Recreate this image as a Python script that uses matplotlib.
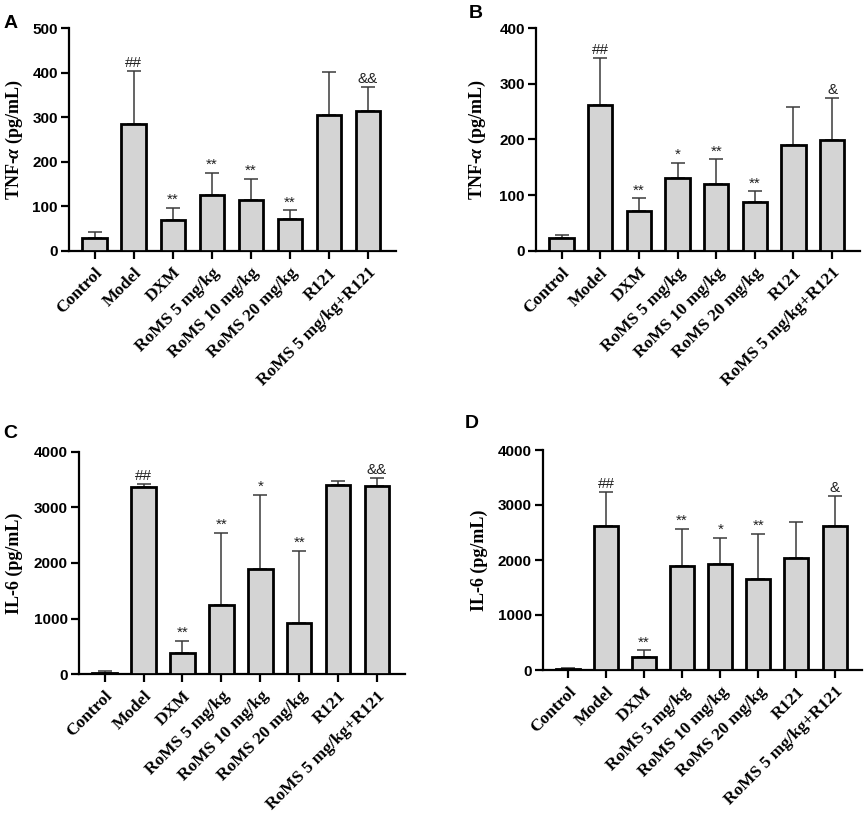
import matplotlib
matplotlib.use("Agg")
import matplotlib.pyplot as plt
import numpy as np

plt.rcParams['mathtext.fontset'] = 'custom'
plt.rcParams['mathtext.rm'] = 'Liberation Serif:bold'
plt.rcParams['mathtext.it'] = 'Liberation Serif:italic:bold'
plt.rcParams['mathtext.bf'] = 'Liberation Serif:bold'

categories = ["Control", "Model", "DXM", "RoMS 5 mg/kg", "RoMS 10 mg/kg",
              "RoMS 20 mg/kg", "R121", "RoMS 5 mg/kg+R121"]

tnf_a_mean = [28, 284, 69, 124, 113, 72, 304, 313]
tnf_a_err = [14, 120, 27, 51, 49, 19, 97, 55]
tnf_b_mean = [23, 262, 72, 130, 119, 87, 189, 198]
tnf_b_err = [5, 84, 22, 28, 45, 20, 69, 77]
il6_c_mean = [25, 3359, 386, 1251, 1886, 922, 3407, 3377]
il6_c_err = [30, 60, 216, 1294, 1342, 1300, 72, 156]
il6_d_mean = [20, 2626, 242, 1897, 1933, 1647, 2030, 2614]
il6_d_err = [15, 614, 116, 674, 474, 833, 663, 547]

marks_a = ["", "##", "**", "**", "**", "**", "", "&&"]
marks_b = ["", "##", "**", "*", "**", "**", "", "&"]
marks_c = ["", "##", "**", "**", "*", "**", "", "&&"]
marks_d = ["", "##", "**", "**", "*", "**", "", "&"]

yticks_tnf_a = [0, 100, 200, 300, 400, 500]
yticks_tnf_b = [0, 100, 200, 300, 400]
yticks_il6 = [0, 1000, 2000, 3000, 4000]

W, H = 865, 819
fig = plt.figure(figsize=(W / 100, H / 100), dpi=100)

def frac(l, r, t, b):
    return [l / W, 1 - b / H, (r - l) / W, (b - t) / H]

panels = [
    dict(rect=frac(69, 396, 28, 250.7), mean=tnf_a_mean, err=tnf_a_err, marks=marks_a,
         yt=yticks_tnf_a, ylabel="TNF-$\\mathit{α}$ (pg/mL)", letter="A", lx=-0.136,
         letpos=(4, 28)),
    dict(rect=frac(536, 860, 28, 250.7), mean=tnf_b_mean, err=tnf_b_err, marks=marks_b,
         yt=yticks_tnf_b, ylabel="TNF-$\\mathit{α}$ (pg/mL)", letter="B", lx=-0.148,
         letpos=(469, 18)),
    dict(rect=frac(79, 405, 451.7, 674.3), mean=il6_c_mean, err=il6_c_err, marks=marks_c,
         yt=yticks_il6, ylabel="IL-6 (pg/mL)", letter="C", lx=-0.172,
         letpos=(3, 438)),
    dict(rect=frac(542.7, 862, 450, 670), mean=il6_d_mean, err=il6_d_err, marks=marks_d,
         yt=yticks_il6, ylabel="IL-6 (pg/mL)", letter="D", lx=-0.171,
         letpos=(465, 428)),
]

for p in panels:
    ax = fig.add_axes(p["rect"])
    x = np.arange(len(categories))
    ax.bar(x, p["mean"], width=0.63, color="#d4d4d4", edgecolor="black",
           linewidth=2.0, zorder=3)
    ax.errorbar(x, p["mean"], yerr=[np.zeros(len(x)), p["err"]], fmt="none",
                ecolor="#3a3a3a", elinewidth=1.1, capsize=4.8, capthick=1.1, zorder=2)
    for xi, m, e, s in zip(x, p["mean"], p["err"], p["marks"]):
        if s:
            ax.annotate(s, (xi, m + e), xytext=(0, 0.5), textcoords="offset points",
                        ha="center", va="bottom", fontsize=11, family="Liberation Sans",
                        color="#222222")
    ax.set_xlim(-0.66, 7.72)
    ax.set_ylim(0, p["yt"][-1])
    ax.set_yticks(p["yt"])
    ax.set_yticklabels([str(v) for v in p["yt"]], fontsize=11,
                       family="Liberation Sans", fontweight="bold")
    ax.set_xticks(x)
    ax.set_xticklabels(categories, rotation=45, ha="right", rotation_mode="anchor",
                       fontsize=12.5, family="Liberation Serif", fontweight="bold")
    ax.set_ylabel(p["ylabel"], fontsize=13, family="Liberation Serif", fontweight="bold")
    ax.yaxis.set_label_coords(p["lx"], 0.5)
    for side in ("top", "right"):
        ax.spines[side].set_visible(False)
    for side in ("left", "bottom"):
        ax.spines[side].set_linewidth(1.6)
    ax.tick_params(axis="both", width=1.6, length=6, pad=2, direction="out")
    ax.tick_params(axis="x", pad=4)
    fig.text(p["letpos"][0] / W, 1 - p["letpos"][1] / H, p["letter"], fontsize=14,
             family="Liberation Sans", fontweight="bold", ha="left", va="baseline")

fig.savefig("out.png", dpi=100, facecolor="white")
